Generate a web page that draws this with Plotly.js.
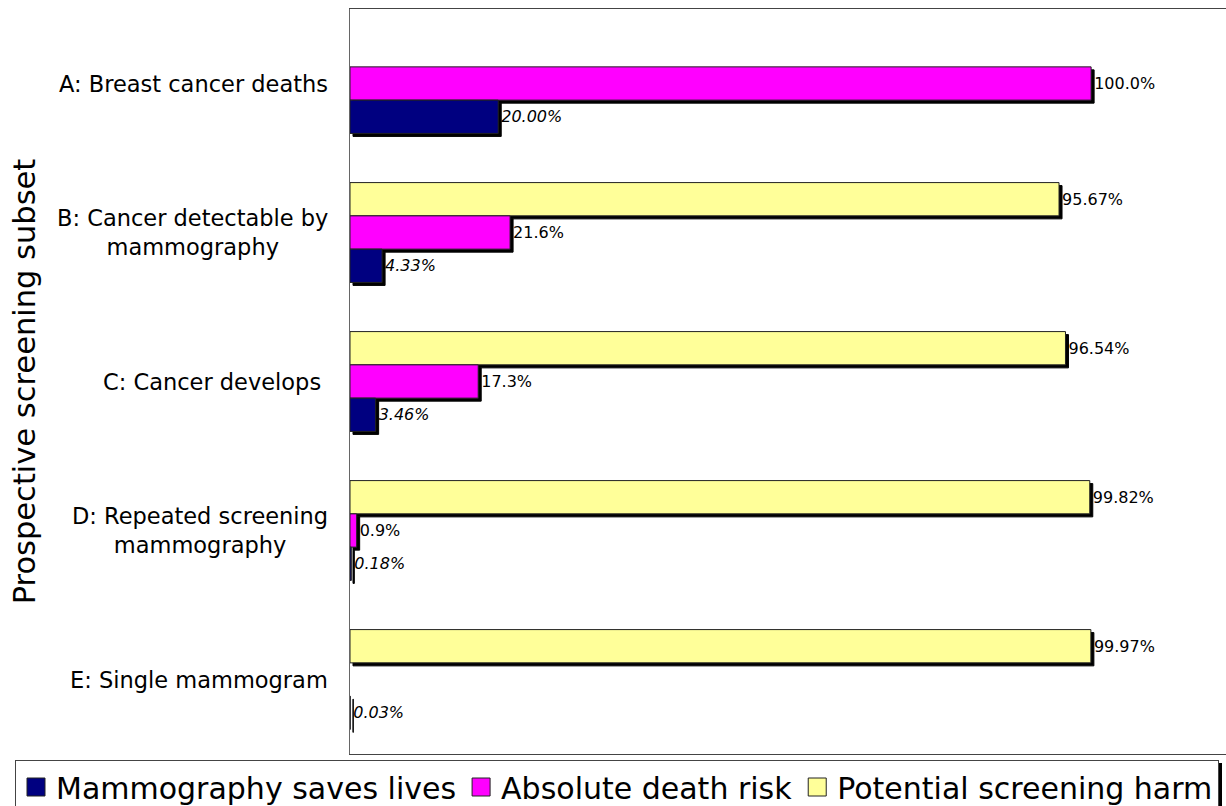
<!DOCTYPE html>
<html><head><meta charset="utf-8">
<script src="https://cdn.plot.ly/plotly-3.0.1.min.js"></script>
<style>
html,body{margin:0;padding:0;background:#fff;overflow:hidden}
#chart{width:1226px;height:806px}
#chart .bars .point path{filter:drop-shadow(3px 3px 0 #000)}
#chart .legend .bg{filter:drop-shadow(3px 3px 0 #000)}
</style></head><body><div id="chart"></div>
<script>
const categories = ['A: Breast cancer deaths', 'B: Cancer detectable by<br>mammography', 'C: Cancer develops\u00a0', 'D: Repeated screening<br>mammography', 'E: Single mammogram'];
const seriesNames = ['Potential screening harm', 'Absolute death risk', 'Mammography saves lives'];
const harm = [null, 95.67, 96.54, 99.82, 99.97];
const deathRisk = [100.0, 21.6, 17.3, 0.9, null];
const savesLives = [20.00, 4.33, 3.46, 0.18, 0.03];
const seriesColors = ['#FFFF99', '#FF00FF', '#000080'];
const axisTitle = 'Prospective screening subset';

const FONT = 'DejaVu Sans, Liberation Sans, Arial, sans-serif';

function barTrace(name, values, color, fmt, style) {
  return {
    type: 'bar', orientation: 'h', name: name,
    x: values, y: categories,
    marker: {color: color, line: {color: '#222', width: 1}},
    texttemplate: fmt, textposition: 'outside', cliponaxis: false,
    textfont: {family: FONT, size: 16, color: '#000', style: style},
    hoverinfo: 'skip'
  };
}

const data = [
  barTrace(seriesNames[0], harm, seriesColors[0], '%{x:.2f}%', 'normal'),
  barTrace(seriesNames[1], deathRisk, seriesColors[1], '%{x:.1f}%', 'normal'),
  barTrace(seriesNames[2], savesLives, seriesColors[2], '%{x:.2f}%', 'italic')
];

const annotations = categories.map(c => ({
  xref: 'paper', yref: 'y', x: 0, y: c, xanchor: 'right', yanchor: 'middle',
  xshift: -20, align: 'center', showarrow: false, text: c,
  font: {family: FONT, size: 22.5, color: '#000'}
}));

const layout = {
  width: 1226, height: 806,
  margin: {l: 350, r: 0, t: 9, b: 52, pad: 0, autoexpand: false},
  paper_bgcolor: '#fff', plot_bgcolor: '#fff',
  barmode: 'group', bargap: 0.33, bargroupgap: 0,
  font: {family: FONT, color: '#000'},
  showlegend: true,
  xaxis: {range: [0, 118.2], showgrid: false, zeroline: false, showticklabels: false,
          ticks: '', showline: true, mirror: true, linecolor: '#444', linewidth: 1, fixedrange: true},
  yaxis: {autorange: 'reversed', type: 'category', showgrid: false, zeroline: false,
          showticklabels: false, ticks: '', showline: true, mirror: false,
          linecolor: '#666', linewidth: 1, fixedrange: true,
          title: {text: axisTitle, font: {family: FONT, size: 30.5, color: '#000'}, standoff: 304}},
  legend: {orientation: 'h', xref: 'paper', yref: 'paper',
           x: (15 - 350) / 876, y: -6 / 745, xanchor: 'left', yanchor: 'top',
           font: {family: FONT, size: 30, color: '#000'}, bgcolor: '#fff',
           bordercolor: '#444', borderwidth: 1, traceorder: 'reversed', itemwidth: 30},
  annotations: annotations
};

Plotly.newPlot('chart', data, layout, {staticPlot: true, displayModeBar: false}).then(gd => {
  gd.querySelectorAll('.legend .legendpoints path').forEach(p => {
    p.setAttribute('d', 'M9,9H-9V-9H9Z');
  });
});
</script></body></html>
